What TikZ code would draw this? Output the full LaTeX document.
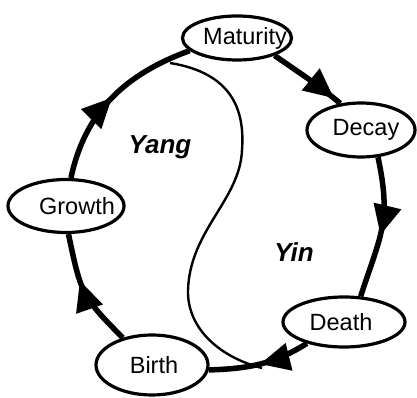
\documentclass[tikz,border=0pt]{standalone}
\usepackage{fontspec}
\setmainfont{Liberation Sans}
\usetikzlibrary{shapes.geometric,decorations.markings,arrows.meta}
\pgfdeclarelayer{background}
\pgfsetlayers{background,main}
% label set off-centre inside its ellipse
\newcommand\offsettext[2]{\makebox[0pt]{\hspace*{#1}#2}}
\begin{document}
\begin{tikzpicture}[x=1pt,y=1pt,
  stage/.style={ellipse,draw,line width=3.2pt,fill=white,inner sep=0pt,
    font=\fontsize{23.5}{27}\selectfont},
  cycleline/.style={line width=5.5pt},
  tipat/.style={postaction={decorate},
    decoration={markings,
      mark=at position #1 with {\arrow{Triangle[length=30pt,width=27pt]}}}},
  sideword/.style={font=\fontsize{26}{30}\selectfont\bfseries\itshape},
  divide/.style={line width=2.4pt}]
\useasboundingbox (0,0) rectangle (417,398);

% the five stages
\node[stage,minimum width=109pt,minimum height=44pt] (mat) at (237,360) {\offsettext{16pt}{Maturity}};
\node[stage,minimum width=108pt,minimum height=54pt] (dec) at (361,268) {\offsettext{10pt}{Decay}};
\node[stage,minimum width=116pt,minimum height=53pt] (gro) at (66,192) {\offsettext{22pt}{Growth}};
\node[stage,minimum width=122pt,minimum height=50pt] (dea) at (344,76) {\offsettext{-6pt}{Death}};
\node[stage,minimum width=112pt,minimum height=60pt] (bir) at (152,33) {\offsettext{4pt}{Birth}};

% the two halves
\node[sideword] (yang) at (160,251) {Yang};
\node[sideword] (yin) at (294,146) {Yin};

% ends of the dividing curve, lying on the cycle
\coordinate (ys) at (170,335);
\coordinate (ye) at (262,30);

\begin{pgfonlayer}{background}
  % the cycle
  \draw[cycleline,tipat=0.9] (mat.-25) to[out=-35,in=140] (dec.128);
  \draw[cycleline,tipat=0.55] (dec.-58) to[out=-78,in=72,looseness=1.2] (dea.57);
  \draw[cycleline,tipat=0.5] (dea.210) to[out=212,in=2] (bir.-5);
  \draw[cycleline,tipat=0.6] (bir.137) to[out=135,in=-78,looseness=1.3] (gro.-85);
  \draw[cycleline,tipat=0.5] (gro.80) to[out=78,in=200] (mat.195);
  % dividing S-curve between yang and yin
  \draw[divide] (ys) .. controls (232,325) and (245,288) .. (242,248)
    .. controls (240,198) and (190,168) .. (188,108)
    .. controls (187,68) and (222,40) .. (ye);
\end{pgfonlayer}
\end{tikzpicture}
\end{document}
